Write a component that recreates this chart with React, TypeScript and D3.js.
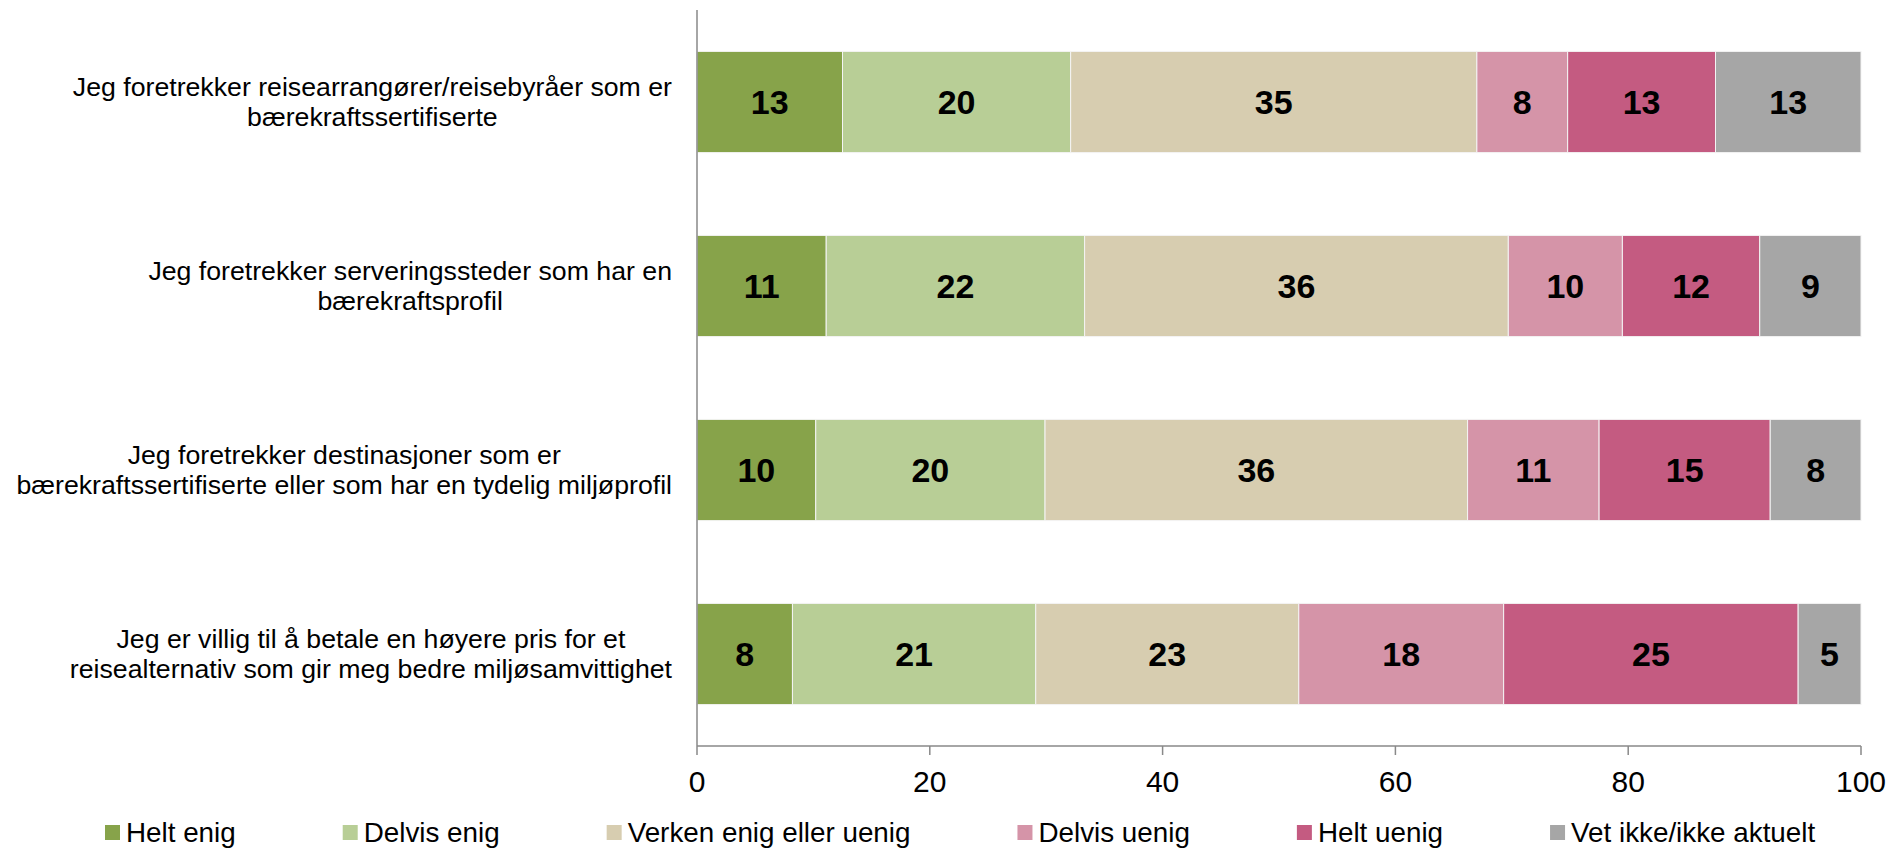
import React from "react";
import * as d3 from "d3";

const categories: string[] = [
  "Jeg foretrekker reisearrangører/reisebyråer som er\nbærekraftssertifiserte",
  "Jeg foretrekker serveringssteder som har en\nbærekraftsprofil",
  "Jeg foretrekker destinasjoner som er\nbærekraftssertifiserte eller som har en tydelig miljøprofil",
  "Jeg er villig til å betale en høyere pris for et\nreisealternativ som gir meg bedre miljøsamvittighet",
];

const seriesNames: string[] = [
  "Helt enig",
  "Delvis enig",
  "Verken enig eller uenig",
  "Delvis uenig",
  "Helt uenig",
  "Vet ikke/ikke aktuelt",
];

const heltEnig = [12.5, 11.1, 10.2, 8.2];
const delvisEnig = [19.6, 22.2, 19.7, 20.9];
const verken = [34.9, 36.4, 36.3, 22.6];
const delvisUenig = [7.8, 9.8, 11.3, 17.6];
const heltUenig = [12.7, 11.8, 14.7, 25.3];
const vetIkke = [12.5, 8.7, 7.8, 5.4];

const xTicks = [0, 20, 40, 60, 80, 100];

const colors = ["#87A34A", "#B8CE96", "#D7CDB0", "#D594A8", "#C45B81", "#A6A6A6"];

const FONT = '"Liberation Sans", Arial, sans-serif';

let _ctx: CanvasRenderingContext2D | null = null;
function measure(text: string, size: number, weight = "normal"): number {
  if (!_ctx) _ctx = document.createElement("canvas").getContext("2d");
  if (!_ctx) return text.length * size * 0.5;
  _ctx.font = `${weight} ${size}px "Liberation Sans", Arial, sans-serif`;
  return _ctx.measureText(text).width;
}

export default function App() {
  const W = 1891;
  const H = 848;
  const left = 697;
  const right = 1861;
  const top = 10;
  const bottom = 746;

  const seriesValues = [heltEnig, delvisEnig, verken, delvisUenig, heltUenig, vetIkke];
  const rows = categories.map((c, i) => {
    const r: Record<string, number | string> = { cat: c };
    seriesNames.forEach((s, j) => (r[s] = seriesValues[j][i]));
    return r;
  });
  const stacked = d3.stack<any>().keys(seriesNames)(rows as any);

  const x = d3.scaleLinear().domain([0, 100]).range([left, right]);
  const y = d3
    .scaleBand<string>()
    .domain(categories)
    .range([top, bottom])
    .paddingInner(0.45)
    .paddingOuter(0.225);

  const catSize = 26.7;
  const tickSize = 30;
  const legSize = 27.8;
  const labelSize = 34;
  const blockRight = 672;

  // legend layout
  const legStart = 105;
  const legGap = 107;
  const sq = 15;
  const legItems: { name: string; x: number; color: string }[] = [];
  let lx = legStart;
  seriesNames.forEach((s, i) => {
    legItems.push({ name: s, x: lx, color: colors[i] });
    lx += sq + 6 + measure(s, legSize) + legGap;
  });

  return (
    <svg
      width={W}
      height={H}
      style={{ position: "absolute", left: 0, top: 0, display: "block", background: "#fff" }}
      fontFamily={FONT}
    >
      {/* bars */}
      {stacked.map((layer, si) => (
        <g key={si} fill={colors[si]}>
          {layer.map((d, ci) => (
            <rect
              key={ci}
              x={x(d[0])}
              y={y(categories[ci])}
              width={x(d[1]) - x(d[0])}
              height={y.bandwidth()}
              stroke="#f4f4f4"
              strokeWidth={1}
            />
          ))}
        </g>
      ))}
      {/* data labels */}
      {stacked.map((layer, si) => (
        <g key={"l" + si}>
          {layer.map((d, ci) => (
            <text
              key={ci}
              x={(x(d[0]) + x(d[1])) / 2}
              y={(y(categories[ci]) as number) + y.bandwidth() / 2}
              dy="0.36em"
              textAnchor="middle"
              fontSize={labelSize}
              fontWeight="bold"
              fill="#000"
            >
              {Math.round(d[1] - d[0])}
            </text>
          ))}
        </g>
      ))}
      {/* category labels */}
      {categories.map((c) => {
        const lines = c.split("\n");
        const widths = lines.map((l) => measure(l, catSize));
        const bw = Math.max(...widths);
        const cx = blockRight - bw / 2;
        const cy = (y(c) as number) + y.bandwidth() / 2;
        const lh = 29.5;
        return (
          <text key={c} fontSize={catSize} fill="#000" textAnchor="middle">
            {lines.map((l, i) => (
              <tspan key={i} x={cx} y={cy - ((lines.length - 1) * lh) / 2 + i * lh + 0.33 * catSize}>
                {l}
              </tspan>
            ))}
          </text>
        );
      })}
      {/* axes */}
      <line x1={left} x2={left} y1={top} y2={bottom} stroke="#898989" strokeWidth={1.5} />
      <line x1={left} x2={right} y1={bottom} y2={bottom} stroke="#898989" strokeWidth={1.5} />
      {xTicks.map((t) => (
        <g key={t}>
          <line x1={x(t)} x2={x(t)} y1={bottom} y2={bottom + 9} stroke="#898989" strokeWidth={1.5} />
          <text x={x(t)} y={bottom + 46} textAnchor="middle" fontSize={tickSize} fill="#000">
            {t}
          </text>
        </g>
      ))}
      {/* legend */}
      {legItems.map((it) => (
        <g key={it.name}>
          <rect x={it.x} y={825} width={sq} height={sq} fill={it.color} />
          <text x={it.x + sq + 6} y={842} fontSize={legSize} fill="#000">
            {it.name}
          </text>
        </g>
      ))}
    </svg>
  );
}
